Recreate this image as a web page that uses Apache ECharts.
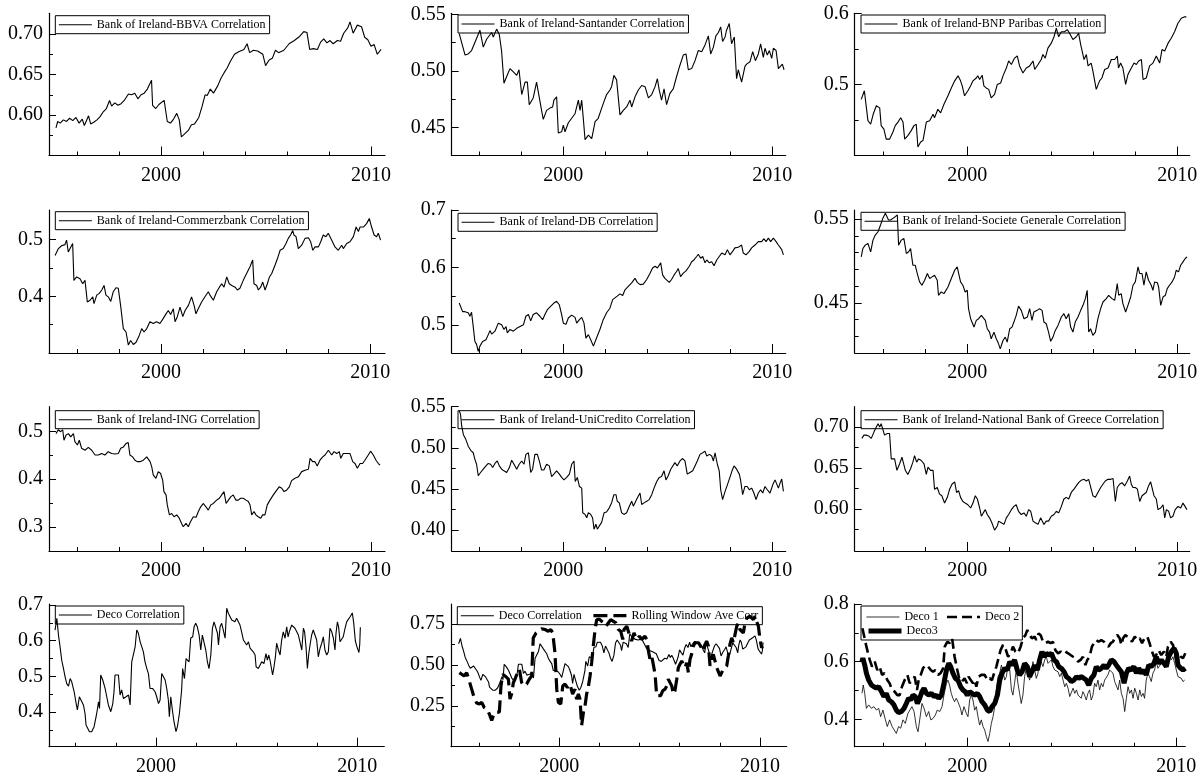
<!DOCTYPE html>
<html><head><meta charset="utf-8">
<script src="https://cdn.jsdelivr.net/npm/echarts@6.0.0/dist/echarts.min.js"></script>
<style>html,body{margin:0;padding:0;background:#fff}#c{width:1198px;height:778px}</style>
</head><body><div id="c"></div>
<script>
// ---------- data: [year, value] ----------
const bbva = [[1995.0,0.584],[1995.08,0.592],[1995.2,0.590],[1995.35,0.594],[1995.5,0.592],[1995.65,0.596],[1995.8,0.593],[1995.95,0.597],[1996.1,0.590],[1996.25,0.595],[1996.35,0.587],[1996.45,0.593],[1996.55,0.599],[1996.65,0.589],[1996.8,0.591],[1996.95,0.594],[1997.1,0.598],[1997.25,0.604],[1997.4,0.608],[1997.55,0.618],[1997.65,0.611],[1997.8,0.615],[1997.95,0.612],[1998.1,0.614],[1998.25,0.618],[1998.45,0.626],[1998.6,0.625],[1998.75,0.627],[1998.9,0.620],[1999.05,0.625],[1999.2,0.627],[1999.35,0.632],[1999.55,0.643],[1999.6,0.612],[1999.75,0.608],[1999.9,0.613],[2000.15,0.618],[2000.3,0.592],[2000.45,0.590],[2000.6,0.595],[2000.75,0.602],[2000.87,0.594],[2000.97,0.573],[2001.1,0.576],[2001.3,0.581],[2001.45,0.588],[2001.6,0.589],[2001.8,0.597],[2001.95,0.610],[2002.1,0.625],[2002.2,0.624],[2002.35,0.632],[2002.5,0.627],[2002.7,0.636],[2002.85,0.645],[2003.0,0.652],[2003.15,0.658],[2003.3,0.666],[2003.5,0.675],[2003.7,0.678],[2003.95,0.681],[2004.1,0.688],[2004.22,0.677],[2004.4,0.680],[2004.6,0.679],[2004.85,0.675],[2004.98,0.661],[2005.15,0.668],[2005.3,0.670],[2005.45,0.680],[2005.6,0.677],[2005.85,0.680],[2006.1,0.688],[2006.35,0.692],[2006.6,0.697],[2006.8,0.703],[2006.95,0.702],[2007.08,0.681],[2007.25,0.682],[2007.45,0.681],[2007.6,0.690],[2007.75,0.694],[2007.9,0.689],[2008.05,0.692],[2008.2,0.688],[2008.4,0.692],[2008.55,0.691],[2008.7,0.701],[2008.9,0.708],[2009.0,0.715],[2009.15,0.701],[2009.35,0.711],[2009.55,0.709],[2009.7,0.696],[2009.85,0.693],[2010.0,0.685],[2010.15,0.687],[2010.3,0.675],[2010.48,0.681]];
const santander = [[1995.02,0.533],[1995.30,0.514],[1995.45,0.515],[1995.61,0.518],[1996.01,0.536],[1996.17,0.521],[1996.33,0.528],[1996.57,0.534],[1996.65,0.530],[1996.81,0.537],[1996.94,0.532],[1997.05,0.517],[1997.16,0.489],[1997.29,0.495],[1997.45,0.502],[1997.61,0.499],[1997.77,0.496],[1997.88,0.501],[1998.01,0.479],[1998.17,0.490],[1998.28,0.490],[1998.37,0.470],[1998.56,0.476],[1998.72,0.490],[1998.80,0.489],[1998.96,0.465],[1999.04,0.457],[1999.20,0.465],[1999.36,0.467],[1999.49,0.468],[1999.55,0.474],[1999.68,0.477],[1999.76,0.445],[1999.92,0.446],[2000.0,0.452],[2000.08,0.446],[2000.24,0.454],[2000.40,0.458],[2000.56,0.462],[2000.72,0.474],[2000.80,0.465],[2000.88,0.474],[2000.96,0.457],[2001.04,0.439],[2001.20,0.443],[2001.36,0.440],[2001.52,0.455],[2001.67,0.458],[2001.75,0.459],[2001.91,0.471],[2002.07,0.479],[2002.23,0.483],[2002.31,0.486],[2002.42,0.496],[2002.55,0.492],[2002.71,0.461],[2002.87,0.465],[2003.03,0.468],[2003.19,0.474],[2003.27,0.468],[2003.43,0.477],[2003.59,0.483],[2003.75,0.487],[2003.91,0.486],[2004.07,0.476],[2004.23,0.479],[2004.39,0.486],[2004.50,0.493],[2004.59,0.483],[2004.70,0.474],[2004.82,0.484],[2004.94,0.470],[2005.10,0.480],[2005.26,0.484],[2005.42,0.495],[2005.58,0.505],[2005.74,0.514],[2005.87,0.515],[2005.98,0.501],[2006.14,0.502],[2006.30,0.509],[2006.46,0.518],[2006.62,0.517],[2006.78,0.523],[2006.94,0.531],[2007.05,0.515],[2007.18,0.521],[2007.30,0.531],[2007.42,0.534],[2007.53,0.539],[2007.62,0.526],[2007.74,0.530],[2007.81,0.536],[2007.94,0.542],[2008.05,0.524],[2008.18,0.530],[2008.29,0.493],[2008.37,0.501],[2008.53,0.490],[2008.69,0.504],[2008.77,0.506],[2008.93,0.508],[2009.06,0.517],[2009.19,0.509],[2009.33,0.515],[2009.44,0.524],[2009.57,0.512],[2009.65,0.520],[2009.76,0.514],[2009.86,0.518],[2009.97,0.511],[2010.05,0.520],[2010.18,0.518],[2010.29,0.502],[2010.37,0.501],[2010.48,0.506],[2010.56,0.501]];
const bnp = [[1994.95,0.479],[1995.1,0.491],[1995.27,0.449],[1995.4,0.444],[1995.52,0.458],[1995.67,0.470],[1995.75,0.472],[1995.83,0.467],[1995.9,0.442],[1996.03,0.437],[1996.14,0.423],[1996.3,0.423],[1996.46,0.433],[1996.57,0.442],[1996.7,0.447],[1996.83,0.453],[1996.94,0.447],[1997.02,0.423],[1997.17,0.428],[1997.33,0.435],[1997.46,0.442],[1997.52,0.440],[1997.57,0.444],[1997.65,0.412],[1997.78,0.419],[1997.89,0.421],[1998.05,0.447],[1998.21,0.449],[1998.37,0.458],[1998.44,0.453],[1998.6,0.465],[1998.73,0.460],[1998.89,0.472],[1999.08,0.484],[1999.24,0.495],[1999.4,0.505],[1999.56,0.512],[1999.68,0.505],[1999.76,0.498],[1999.87,0.484],[2000.03,0.491],[2000.16,0.498],[2000.27,0.505],[2000.43,0.509],[2000.5,0.512],[2000.59,0.507],[2000.71,0.513],[2000.79,0.498],[2000.9,0.495],[2001.02,0.493],[2001.14,0.481],[2001.3,0.486],[2001.43,0.500],[2001.59,0.502],[2001.7,0.512],[2001.86,0.523],[2001.97,0.533],[2002.1,0.528],[2002.25,0.537],[2002.38,0.540],[2002.49,0.526],[2002.65,0.516],[2002.81,0.523],[2002.97,0.526],[2003.13,0.533],[2003.21,0.521],[2003.37,0.528],[2003.52,0.535],[2003.6,0.542],[2003.71,0.537],[2003.84,0.551],[2004.0,0.558],[2004.13,0.567],[2004.24,0.579],[2004.35,0.567],[2004.48,0.574],[2004.63,0.574],[2004.76,0.577],[2004.87,0.572],[2005.03,0.563],[2005.19,0.567],[2005.3,0.572],[2005.4,0.556],[2005.46,0.558],[2005.56,0.535],[2005.67,0.542],[2005.75,0.526],[2005.9,0.530],[2005.98,0.519],[2006.14,0.493],[2006.3,0.505],[2006.41,0.509],[2006.54,0.521],[2006.7,0.523],[2006.86,0.535],[2007.02,0.535],[2007.14,0.540],[2007.2,0.523],[2007.3,0.530],[2007.41,0.523],[2007.54,0.500],[2007.65,0.514],[2007.81,0.523],[2007.94,0.530],[2008.05,0.528],[2008.16,0.533],[2008.29,0.535],[2008.37,0.507],[2008.52,0.509],[2008.68,0.526],[2008.84,0.530],[2009.0,0.540],[2009.16,0.530],[2009.27,0.549],[2009.4,0.547],[2009.56,0.558],[2009.71,0.565],[2009.87,0.574],[2010.03,0.586],[2010.19,0.593],[2010.35,0.595],[2010.43,0.595]];
const commerz = [[1994.94,0.472],[1995.1,0.484],[1995.25,0.489],[1995.41,0.491],[1995.49,0.499],[1995.57,0.478],[1995.65,0.477],[1995.78,0.493],[1995.84,0.428],[1995.97,0.434],[1996.13,0.431],[1996.26,0.422],[1996.37,0.428],[1996.48,0.390],[1996.61,0.393],[1996.74,0.399],[1996.8,0.387],[1996.93,0.402],[1997.05,0.405],[1997.17,0.411],[1997.28,0.419],[1997.37,0.402],[1997.48,0.399],[1997.6,0.391],[1997.72,0.408],[1997.85,0.415],[1997.96,0.414],[1998.07,0.384],[1998.2,0.343],[1998.33,0.337],[1998.44,0.314],[1998.55,0.322],[1998.68,0.315],[1998.81,0.319],[1998.96,0.331],[1999.08,0.343],[1999.19,0.337],[1999.32,0.343],[1999.47,0.355],[1999.63,0.352],[1999.79,0.355],[1999.95,0.352],[2000.11,0.361],[2000.24,0.369],[2000.35,0.375],[2000.46,0.368],[2000.59,0.378],[2000.67,0.355],[2000.78,0.364],[2000.91,0.381],[2001.04,0.364],[2001.15,0.375],[2001.31,0.384],[2001.46,0.399],[2001.58,0.384],[2001.67,0.369],[2001.78,0.378],[2001.94,0.390],[2002.1,0.399],[2002.26,0.408],[2002.34,0.402],[2002.5,0.393],[2002.66,0.408],[2002.79,0.416],[2002.9,0.422],[2003.01,0.416],[2003.14,0.434],[2003.26,0.422],[2003.38,0.419],[2003.54,0.416],[2003.65,0.411],[2003.77,0.414],[2003.93,0.428],[2004.09,0.440],[2004.25,0.452],[2004.38,0.464],[2004.44,0.422],[2004.57,0.419],[2004.65,0.411],[2004.76,0.416],[2004.86,0.425],[2004.97,0.411],[2005.08,0.422],[2005.18,0.434],[2005.29,0.440],[2005.45,0.455],[2005.56,0.466],[2005.69,0.481],[2005.84,0.484],[2005.97,0.493],[2006.08,0.502],[2006.19,0.508],[2006.29,0.516],[2006.35,0.508],[2006.45,0.505],[2006.56,0.484],[2006.72,0.490],[2006.88,0.502],[2007.04,0.503],[2007.15,0.496],[2007.25,0.481],[2007.36,0.487],[2007.52,0.487],[2007.63,0.496],[2007.75,0.508],[2007.88,0.505],[2007.99,0.511],[2008.15,0.499],[2008.31,0.487],[2008.47,0.481],[2008.63,0.490],[2008.71,0.484],[2008.87,0.493],[2009.03,0.496],[2009.19,0.505],[2009.32,0.522],[2009.43,0.514],[2009.51,0.522],[2009.67,0.522],[2009.82,0.528],[2009.95,0.537],[2010.06,0.522],[2010.18,0.508],[2010.3,0.505],[2010.38,0.511],[2010.49,0.499]];
const db = [[1995.02,0.538],[1995.08,0.541],[1995.18,0.523],[1995.29,0.523],[1995.45,0.521],[1995.53,0.515],[1995.61,0.522],[1995.69,0.497],[1995.77,0.471],[1995.85,0.466],[1995.93,0.454],[1996.01,0.463],[1996.14,0.471],[1996.3,0.474],[1996.41,0.483],[1996.49,0.490],[1996.57,0.484],[1996.73,0.489],[1996.89,0.503],[1997.05,0.500],[1997.16,0.492],[1997.26,0.497],[1997.32,0.486],[1997.45,0.492],[1997.61,0.489],[1997.77,0.494],[1997.93,0.497],[1998.09,0.500],[1998.21,0.515],[1998.33,0.518],[1998.44,0.507],[1998.56,0.518],[1998.72,0.521],[1998.88,0.515],[1999.01,0.509],[1999.12,0.518],[1999.23,0.526],[1999.39,0.532],[1999.55,0.538],[1999.68,0.541],[1999.81,0.535],[1999.92,0.518],[2000.0,0.503],[2000.13,0.501],[2000.24,0.512],[2000.4,0.517],[2000.56,0.513],[2000.64,0.503],[2000.77,0.509],[2000.88,0.513],[2000.99,0.503],[2001.08,0.477],[2001.2,0.483],[2001.31,0.474],[2001.44,0.463],[2001.59,0.477],[2001.75,0.492],[2001.91,0.509],[2002.07,0.521],[2002.23,0.529],[2002.36,0.544],[2002.47,0.547],[2002.58,0.550],[2002.71,0.554],[2002.84,0.551],[2002.95,0.561],[2003.11,0.567],[2003.27,0.573],[2003.43,0.581],[2003.54,0.574],[2003.67,0.570],[2003.83,0.571],[2003.99,0.579],[2004.15,0.590],[2004.27,0.599],[2004.39,0.602],[2004.5,0.599],[2004.59,0.602],[2004.66,0.608],[2004.75,0.587],[2004.86,0.581],[2004.94,0.584],[2005.07,0.574],[2005.18,0.579],[2005.3,0.587],[2005.42,0.593],[2005.5,0.598],[2005.61,0.584],[2005.74,0.590],[2005.87,0.594],[2006.03,0.602],[2006.14,0.610],[2006.25,0.613],[2006.38,0.619],[2006.46,0.623],[2006.57,0.616],[2006.67,0.619],[2006.78,0.608],[2006.86,0.613],[2006.99,0.608],[2007.1,0.610],[2007.21,0.603],[2007.34,0.613],[2007.46,0.619],[2007.58,0.625],[2007.74,0.622],[2007.85,0.631],[2007.97,0.622],[2008.1,0.628],[2008.21,0.634],[2008.37,0.635],[2008.53,0.639],[2008.61,0.625],[2008.74,0.622],[2008.9,0.628],[2009.01,0.634],[2009.17,0.639],[2009.33,0.645],[2009.49,0.645],[2009.6,0.650],[2009.7,0.645],[2009.81,0.651],[2009.92,0.645],[2010.05,0.651],[2010.18,0.645],[2010.29,0.639],[2010.37,0.642],[2010.45,0.631],[2010.53,0.622]];
const socgen = [[1994.95,0.505],[1995.03,0.515],[1995.14,0.519],[1995.27,0.521],[1995.4,0.511],[1995.51,0.525],[1995.62,0.531],[1995.75,0.535],[1995.87,0.543],[1995.98,0.551],[1996.1,0.557],[1996.19,0.556],[1996.25,0.549],[1996.35,0.549],[1996.46,0.551],[1996.57,0.553],[1996.67,0.555],[1996.73,0.519],[1996.86,0.525],[1996.98,0.527],[1997.1,0.509],[1997.21,0.511],[1997.3,0.515],[1997.41,0.495],[1997.52,0.495],[1997.62,0.485],[1997.73,0.475],[1997.84,0.471],[1997.97,0.477],[1998.1,0.485],[1998.21,0.479],[1998.32,0.481],[1998.44,0.483],[1998.57,0.477],[1998.63,0.459],[1998.76,0.463],[1998.89,0.461],[1998.95,0.459],[1999.08,0.469],[1999.24,0.479],[1999.4,0.489],[1999.52,0.493],[1999.59,0.491],[1999.68,0.475],[1999.79,0.471],[1999.9,0.463],[2000.0,0.465],[2000.06,0.443],[2000.16,0.431],[2000.22,0.433],[2000.32,0.421],[2000.43,0.429],[2000.54,0.431],[2000.67,0.435],[2000.76,0.437],[2000.86,0.429],[2000.95,0.419],[2001.06,0.415],[2001.14,0.407],[2001.27,0.415],[2001.38,0.407],[2001.46,0.403],[2001.57,0.395],[2001.7,0.405],[2001.81,0.409],[2001.9,0.403],[2002.02,0.419],[2002.13,0.421],[2002.22,0.427],[2002.33,0.435],[2002.44,0.446],[2002.57,0.441],[2002.7,0.431],[2002.86,0.433],[2002.97,0.443],[2003.08,0.429],[2003.17,0.439],[2003.33,0.441],[2003.44,0.443],[2003.56,0.441],[2003.65,0.427],[2003.76,0.425],[2003.87,0.415],[2003.97,0.404],[2004.08,0.409],[2004.19,0.417],[2004.32,0.423],[2004.48,0.433],[2004.6,0.437],[2004.71,0.431],[2004.83,0.437],[2004.92,0.421],[2005.03,0.415],[2005.14,0.427],[2005.27,0.433],[2005.4,0.441],[2005.51,0.447],[2005.62,0.455],[2005.71,0.465],[2005.78,0.415],[2005.87,0.419],[2005.98,0.411],[2006.1,0.415],[2006.22,0.431],[2006.35,0.443],[2006.46,0.451],[2006.62,0.455],[2006.73,0.459],[2006.89,0.455],[2007.02,0.453],[2007.14,0.473],[2007.21,0.459],[2007.33,0.461],[2007.41,0.449],[2007.54,0.439],[2007.65,0.447],[2007.78,0.457],[2007.89,0.471],[2008.0,0.475],[2008.13,0.493],[2008.21,0.485],[2008.32,0.485],[2008.41,0.471],[2008.52,0.487],[2008.63,0.477],[2008.76,0.471],[2008.84,0.465],[2008.92,0.475],[2009.05,0.474],[2009.11,0.469],[2009.21,0.447],[2009.32,0.457],[2009.43,0.459],[2009.52,0.467],[2009.63,0.471],[2009.75,0.475],[2009.87,0.481],[2009.95,0.489],[2010.06,0.487],[2010.16,0.495],[2010.27,0.499],[2010.38,0.503],[2010.46,0.505]];
const ing = [[1995.0,0.496],[1995.11,0.504],[1995.22,0.500],[1995.32,0.504],[1995.38,0.482],[1995.48,0.493],[1995.59,0.496],[1995.7,0.489],[1995.83,0.496],[1995.9,0.479],[1996.02,0.472],[1996.11,0.482],[1996.22,0.465],[1996.38,0.461],[1996.54,0.467],[1996.7,0.461],[1996.86,0.451],[1997.02,0.451],[1997.17,0.454],[1997.33,0.451],[1997.49,0.458],[1997.65,0.454],[1997.81,0.453],[1997.97,0.454],[1998.08,0.465],[1998.21,0.468],[1998.33,0.475],[1998.44,0.477],[1998.52,0.451],[1998.65,0.447],[1998.76,0.440],[1998.87,0.437],[1999.0,0.437],[1999.16,0.440],[1999.32,0.447],[1999.4,0.451],[1999.48,0.437],[1999.56,0.426],[1999.63,0.409],[1999.76,0.402],[1999.87,0.416],[1999.98,0.412],[2000.08,0.398],[2000.14,0.374],[2000.24,0.367],[2000.3,0.346],[2000.4,0.325],[2000.51,0.328],[2000.62,0.321],[2000.75,0.325],[2000.87,0.318],[2000.98,0.307],[2001.06,0.300],[2001.19,0.307],[2001.3,0.300],[2001.41,0.311],[2001.54,0.321],[2001.67,0.320],[2001.78,0.332],[2001.89,0.342],[2002.02,0.349],[2002.14,0.342],[2002.25,0.335],[2002.37,0.346],[2002.49,0.349],[2002.65,0.356],[2002.78,0.360],[2002.89,0.367],[2003.0,0.374],[2003.1,0.349],[2003.21,0.356],[2003.32,0.363],[2003.44,0.367],[2003.57,0.356],[2003.68,0.356],[2003.79,0.360],[2003.92,0.360],[2004.05,0.356],[2004.16,0.353],[2004.24,0.346],[2004.32,0.325],[2004.43,0.332],[2004.52,0.325],[2004.63,0.321],[2004.75,0.318],[2004.84,0.325],[2004.95,0.325],[2005.06,0.346],[2005.19,0.356],[2005.35,0.367],[2005.51,0.377],[2005.63,0.384],[2005.75,0.381],[2005.86,0.374],[2005.98,0.377],[2006.11,0.384],[2006.22,0.397],[2006.38,0.402],[2006.54,0.405],[2006.7,0.416],[2006.86,0.419],[2007.02,0.421],[2007.1,0.444],[2007.22,0.437],[2007.33,0.437],[2007.44,0.428],[2007.57,0.440],[2007.7,0.447],[2007.81,0.451],[2007.97,0.461],[2008.05,0.465],[2008.13,0.451],[2008.24,0.458],[2008.37,0.454],[2008.49,0.458],[2008.56,0.444],[2008.68,0.454],[2008.84,0.454],[2009.0,0.454],[2009.13,0.437],[2009.24,0.433],[2009.35,0.423],[2009.48,0.433],[2009.6,0.433],[2009.71,0.440],[2009.87,0.451],[2009.98,0.459],[2010.11,0.451],[2010.24,0.440],[2010.35,0.433],[2010.43,0.430]];
const unicredito = [[1995.02,0.545],[1995.08,0.541],[1995.14,0.526],[1995.22,0.516],[1995.34,0.510],[1995.45,0.502],[1995.57,0.497],[1995.69,0.494],[1995.77,0.486],[1995.85,0.480],[1995.93,0.466],[1996.04,0.470],[1996.17,0.474],[1996.3,0.478],[1996.41,0.481],[1996.52,0.480],[1996.62,0.476],[1996.73,0.481],[1996.84,0.484],[1996.94,0.478],[1997.05,0.474],[1997.16,0.472],[1997.29,0.470],[1997.42,0.476],[1997.53,0.485],[1997.64,0.480],[1997.77,0.474],[1997.89,0.480],[1998.01,0.484],[1998.12,0.480],[1998.21,0.492],[1998.33,0.494],[1998.44,0.470],[1998.53,0.474],[1998.64,0.492],[1998.76,0.492],[1998.85,0.484],[1998.96,0.473],[1999.07,0.473],[1999.2,0.480],[1999.33,0.478],[1999.44,0.465],[1999.55,0.468],[1999.68,0.472],[1999.81,0.468],[1999.92,0.464],[2000.03,0.461],[2000.16,0.464],[2000.29,0.468],[2000.4,0.480],[2000.51,0.484],[2000.57,0.459],[2000.67,0.464],[2000.77,0.453],[2000.88,0.451],[2000.93,0.421],[2001.04,0.419],[2001.12,0.415],[2001.2,0.421],[2001.31,0.419],[2001.4,0.415],[2001.47,0.401],[2001.56,0.407],[2001.63,0.401],[2001.72,0.405],[2001.83,0.409],[2001.95,0.421],[2002.07,0.422],[2002.2,0.427],[2002.31,0.433],[2002.42,0.443],[2002.52,0.443],[2002.58,0.435],[2002.68,0.433],[2002.79,0.421],[2002.9,0.419],[2003.03,0.421],[2003.16,0.429],[2003.27,0.435],[2003.35,0.429],[2003.43,0.431],[2003.54,0.439],[2003.67,0.445],[2003.75,0.431],[2003.86,0.433],[2003.99,0.435],[2004.11,0.437],[2004.23,0.443],[2004.34,0.451],[2004.47,0.459],[2004.59,0.464],[2004.7,0.465],[2004.82,0.472],[2004.91,0.461],[2005.02,0.466],[2005.14,0.474],[2005.23,0.476],[2005.34,0.482],[2005.45,0.478],[2005.58,0.484],[2005.71,0.487],[2005.82,0.484],[2005.93,0.468],[2006.06,0.470],[2006.19,0.472],[2006.3,0.478],[2006.41,0.484],[2006.54,0.492],[2006.67,0.494],[2006.78,0.496],[2006.86,0.490],[2006.99,0.492],[2007.1,0.490],[2007.18,0.484],[2007.26,0.494],[2007.37,0.480],[2007.46,0.472],[2007.53,0.449],[2007.62,0.437],[2007.74,0.447],[2007.85,0.455],[2007.97,0.464],[2008.1,0.474],[2008.17,0.478],[2008.29,0.474],[2008.42,0.468],[2008.48,0.461],[2008.58,0.443],[2008.69,0.453],[2008.8,0.453],[2008.9,0.449],[2009.01,0.451],[2009.12,0.445],[2009.22,0.437],[2009.33,0.445],[2009.44,0.449],[2009.54,0.445],[2009.65,0.453],[2009.76,0.449],[2009.89,0.445],[2010.02,0.455],[2010.13,0.461],[2010.21,0.462],[2010.29,0.451],[2010.37,0.457],[2010.45,0.462],[2010.53,0.447]];
const nbg = [[1994.98,0.686],[1995.08,0.690],[1995.19,0.690],[1995.3,0.689],[1995.43,0.686],[1995.56,0.694],[1995.67,0.700],[1995.75,0.704],[1995.83,0.700],[1995.9,0.704],[1995.98,0.702],[1996.06,0.690],[1996.19,0.692],[1996.3,0.692],[1996.38,0.661],[1996.46,0.659],[1996.54,0.661],[1996.65,0.647],[1996.78,0.655],[1996.89,0.663],[1996.98,0.665],[1997.05,0.647],[1997.17,0.642],[1997.3,0.649],[1997.41,0.657],[1997.49,0.665],[1997.59,0.657],[1997.68,0.661],[1997.81,0.659],[1997.94,0.655],[1998.05,0.642],[1998.13,0.651],[1998.25,0.647],[1998.37,0.647],[1998.44,0.624],[1998.57,0.626],[1998.68,0.618],[1998.79,0.616],[1998.92,0.607],[1999.05,0.614],[1999.16,0.624],[1999.27,0.630],[1999.4,0.633],[1999.49,0.620],[1999.59,0.622],[1999.68,0.614],[1999.79,0.609],[1999.9,0.607],[2000.03,0.605],[2000.16,0.601],[2000.27,0.607],[2000.38,0.616],[2000.48,0.612],[2000.59,0.601],[2000.67,0.591],[2000.76,0.595],[2000.86,0.599],[2000.95,0.593],[2001.06,0.589],[2001.17,0.583],[2001.3,0.574],[2001.43,0.579],[2001.49,0.585],[2001.62,0.583],[2001.75,0.581],[2001.86,0.589],[2001.97,0.593],[2002.1,0.599],[2002.22,0.603],[2002.33,0.605],[2002.44,0.597],[2002.57,0.593],[2002.7,0.595],[2002.81,0.591],[2002.92,0.599],[2003.02,0.597],[2003.13,0.585],[2003.24,0.583],[2003.37,0.581],[2003.49,0.589],[2003.56,0.589],[2003.65,0.581],[2003.76,0.585],[2003.87,0.585],[2004.0,0.591],[2004.13,0.593],[2004.24,0.597],[2004.35,0.595],[2004.48,0.603],[2004.6,0.612],[2004.71,0.614],[2004.83,0.612],[2004.95,0.620],[2005.08,0.624],[2005.19,0.628],[2005.3,0.632],[2005.43,0.635],[2005.56,0.636],[2005.67,0.634],[2005.78,0.636],[2005.87,0.634],[2005.98,0.616],[2006.1,0.614],[2006.22,0.620],[2006.35,0.626],[2006.46,0.630],[2006.57,0.634],[2006.7,0.636],[2006.83,0.636],[2006.94,0.637],[2007.05,0.609],[2007.14,0.626],[2007.25,0.630],[2007.37,0.632],[2007.49,0.628],[2007.62,0.634],[2007.73,0.640],[2007.81,0.630],[2007.89,0.626],[2008.0,0.626],[2008.1,0.624],[2008.16,0.622],[2008.21,0.609],[2008.32,0.616],[2008.41,0.616],[2008.52,0.620],[2008.63,0.628],[2008.73,0.633],[2008.79,0.634],[2008.89,0.616],[2009.0,0.612],[2009.08,0.599],[2009.21,0.601],[2009.32,0.605],[2009.4,0.589],[2009.48,0.599],[2009.59,0.597],[2009.68,0.589],[2009.79,0.591],[2009.9,0.599],[2010.03,0.603],[2010.16,0.601],[2010.27,0.607],[2010.35,0.609],[2010.46,0.599]];
const deco = [[1994.98,0.630],[1995.07,0.663],[1995.15,0.616],[1995.23,0.583],[1995.31,0.546],[1995.4,0.522],[1995.48,0.499],[1995.56,0.480],[1995.65,0.473],[1995.73,0.494],[1995.81,0.485],[1995.93,0.457],[1996.03,0.424],[1996.09,0.406],[1996.19,0.443],[1996.31,0.429],[1996.39,0.420],[1996.47,0.396],[1996.52,0.364],[1996.59,0.368],[1996.69,0.345],[1996.8,0.345],[1996.92,0.359],[1997.02,0.387],[1997.09,0.410],[1997.14,0.429],[1997.19,0.410],[1997.25,0.504],[1997.35,0.490],[1997.47,0.466],[1997.55,0.443],[1997.63,0.420],[1997.75,0.401],[1997.85,0.424],[1997.91,0.457],[1997.96,0.504],[1998.05,0.499],[1998.13,0.504],[1998.21,0.448],[1998.29,0.462],[1998.38,0.438],[1998.51,0.443],[1998.63,0.448],[1998.71,0.420],[1998.79,0.541],[1998.87,0.541],[1998.96,0.583],[1999.04,0.630],[1999.12,0.621],[1999.21,0.597],[1999.29,0.593],[1999.37,0.569],[1999.45,0.541],[1999.54,0.522],[1999.62,0.508],[1999.7,0.466],[1999.83,0.466],[1999.95,0.457],[2000.03,0.443],[2000.12,0.424],[2000.2,0.434],[2000.28,0.508],[2000.36,0.513],[2000.45,0.490],[2000.53,0.466],[2000.61,0.434],[2000.66,0.387],[2000.73,0.443],[2000.81,0.406],[2000.89,0.373],[2000.99,0.345],[2001.06,0.359],[2001.16,0.396],[2001.23,0.396],[2001.27,0.462],[2001.32,0.522],[2001.41,0.494],[2001.49,0.550],[2001.56,0.555],[2001.64,0.541],[2001.72,0.607],[2001.82,0.611],[2001.89,0.639],[2001.97,0.649],[2002.05,0.639],[2002.14,0.616],[2002.22,0.574],[2002.3,0.616],[2002.38,0.621],[2002.47,0.574],[2002.55,0.541],[2002.63,0.522],[2002.72,0.560],[2002.8,0.635],[2002.88,0.653],[2002.96,0.649],[2003.05,0.621],[2003.1,0.588],[2003.18,0.639],[2003.26,0.649],[2003.34,0.630],[2003.43,0.607],[2003.51,0.691],[2003.59,0.677],[2003.68,0.672],[2003.76,0.658],[2003.84,0.653],[2003.92,0.653],[2004.0,0.663],[2004.09,0.658],[2004.17,0.644],[2004.25,0.625],[2004.34,0.602],[2004.42,0.607],[2004.5,0.588],[2004.59,0.597],[2004.67,0.579],[2004.75,0.583],[2004.83,0.569],[2004.92,0.560],[2004.97,0.527],[2005.08,0.522],[2005.17,0.532],[2005.25,0.541],[2005.36,0.536],[2005.46,0.564],[2005.53,0.546],[2005.6,0.560],[2005.66,0.546],[2005.75,0.541],[2005.79,0.504],[2005.86,0.527],[2005.93,0.555],[2005.99,0.593],[2006.08,0.574],[2006.16,0.560],[2006.24,0.602],[2006.32,0.625],[2006.41,0.607],[2006.49,0.639],[2006.56,0.611],[2006.62,0.625],[2006.74,0.644],[2006.82,0.639],[2006.9,0.635],[2006.99,0.625],[2007.07,0.616],[2007.15,0.597],[2007.24,0.574],[2007.32,0.635],[2007.38,0.625],[2007.45,0.583],[2007.52,0.522],[2007.58,0.560],[2007.65,0.588],[2007.73,0.616],[2007.81,0.630],[2007.9,0.630],[2007.98,0.602],[2008.06,0.555],[2008.15,0.579],[2008.23,0.593],[2008.31,0.611],[2008.39,0.574],[2008.48,0.560],[2008.56,0.569],[2008.64,0.635],[2008.73,0.625],[2008.81,0.607],[2008.89,0.574],[2008.94,0.621],[2009.01,0.653],[2009.07,0.639],[2009.14,0.597],[2009.22,0.593],[2009.3,0.611],[2009.39,0.635],[2009.47,0.653],[2009.55,0.658],[2009.65,0.668],[2009.75,0.678],[2009.82,0.650],[2009.9,0.600],[2009.97,0.585],[2010.03,0.575],[2010.08,0.567],[2010.12,0.590],[2010.15,0.638]];
const rolling = [[1995.02,0.453],[1995.13,0.443],[1995.25,0.433],[1995.38,0.453],[1995.46,0.423],[1995.55,0.433],[1995.63,0.352],[1995.75,0.302],[1995.88,0.267],[1996.01,0.261],[1996.13,0.271],[1996.25,0.241],[1996.38,0.231],[1996.51,0.200],[1996.63,0.160],[1996.71,0.190],[1996.79,0.211],[1996.88,0.200],[1997.01,0.211],[1997.09,0.372],[1997.18,0.443],[1997.29,0.433],[1997.38,0.443],[1997.46,0.413],[1997.54,0.291],[1997.62,0.322],[1997.71,0.393],[1997.79,0.413],[1997.91,0.453],[1998.01,0.474],[1998.12,0.393],[1998.24,0.372],[1998.37,0.383],[1998.5,0.413],[1998.62,0.433],[1998.7,0.666],[1998.84,0.696],[1998.95,0.706],[1999.12,0.721],[1999.29,0.717],[1999.45,0.706],[1999.57,0.717],[1999.67,0.696],[1999.78,0.575],[1999.87,0.352],[1999.95,0.271],[2000.07,0.261],[2000.17,0.372],[2000.28,0.383],[2000.4,0.362],[2000.53,0.383],[2000.66,0.322],[2000.78,0.352],[2000.86,0.291],[2000.95,0.322],[2001.03,0.291],[2001.11,0.130],[2001.2,0.211],[2001.28,0.251],[2001.36,0.322],[2001.45,0.372],[2001.53,0.433],[2001.61,0.514],[2001.69,0.615],[2001.78,0.717],[2001.86,0.777],[2001.99,0.781],[2002.11,0.767],[2002.23,0.757],[2002.33,0.737],[2002.44,0.757],[2002.56,0.777],[2002.69,0.767],[2002.82,0.757],[2002.94,0.717],[2003.06,0.706],[2003.16,0.656],[2003.22,0.717],[2003.36,0.737],[2003.49,0.686],[2003.6,0.646],[2003.72,0.696],[2003.85,0.656],[2003.99,0.676],[2004.1,0.656],[2004.19,0.666],[2004.27,0.676],[2004.35,0.656],[2004.44,0.585],[2004.52,0.534],[2004.6,0.555],[2004.68,0.504],[2004.77,0.443],[2004.85,0.312],[2004.93,0.302],[2005.05,0.312],[2005.15,0.342],[2005.27,0.352],[2005.35,0.372],[2005.43,0.413],[2005.51,0.423],[2005.6,0.372],[2005.68,0.322],[2005.76,0.342],[2005.85,0.413],[2005.93,0.484],[2006.01,0.504],[2006.1,0.524],[2006.18,0.524],[2006.26,0.484],[2006.35,0.514],[2006.43,0.453],[2006.51,0.534],[2006.59,0.565],[2006.68,0.615],[2006.76,0.636],[2006.84,0.626],[2006.93,0.636],[2007.04,0.615],[2007.14,0.585],[2007.26,0.626],[2007.34,0.646],[2007.43,0.615],[2007.51,0.494],[2007.59,0.534],[2007.67,0.565],[2007.76,0.524],[2007.84,0.484],[2007.92,0.474],[2008.01,0.433],[2008.09,0.453],[2008.17,0.474],[2008.26,0.484],[2008.34,0.494],[2008.42,0.555],[2008.5,0.626],[2008.59,0.666],[2008.67,0.636],[2008.75,0.626],[2008.84,0.737],[2008.92,0.757],[2009.0,0.717],[2009.09,0.727],[2009.17,0.696],[2009.25,0.757],[2009.34,0.787],[2009.42,0.787],[2009.5,0.798],[2009.58,0.802],[2009.67,0.777],[2009.75,0.798],[2009.83,0.767],[2009.92,0.737],[2010.0,0.656],[2010.08,0.605],[2010.13,0.615]];
const deco1 = [[1994.96,0.490],[1995.02,0.519],[1995.09,0.490],[1995.17,0.438],[1995.28,0.450],[1995.41,0.438],[1995.53,0.444],[1995.65,0.432],[1995.76,0.438],[1995.85,0.409],[1995.96,0.432],[1996.08,0.398],[1996.17,0.375],[1996.28,0.398],[1996.4,0.375],[1996.49,0.369],[1996.6,0.351],[1996.71,0.375],[1996.81,0.369],[1996.92,0.398],[1997.03,0.386],[1997.16,0.421],[1997.24,0.415],[1997.35,0.444],[1997.45,0.427],[1997.56,0.375],[1997.64,0.357],[1997.72,0.398],[1997.83,0.455],[1997.93,0.438],[1998.04,0.409],[1998.15,0.427],[1998.25,0.398],[1998.36,0.403],[1998.47,0.415],[1998.56,0.432],[1998.68,0.427],[1998.79,0.444],[1998.88,0.484],[1999.0,0.525],[1999.07,0.536],[1999.15,0.519],[1999.23,0.490],[1999.31,0.473],[1999.39,0.461],[1999.47,0.473],[1999.55,0.461],[1999.67,0.438],[1999.74,0.415],[1999.84,0.444],[1999.95,0.421],[2000.03,0.409],[2000.11,0.467],[2000.19,0.484],[2000.27,0.467],[2000.35,0.432],[2000.43,0.444],[2000.51,0.409],[2000.59,0.380],[2000.67,0.398],[2000.75,0.375],[2000.83,0.363],[2000.91,0.340],[2000.99,0.323],[2001.07,0.351],[2001.15,0.386],[2001.23,0.409],[2001.31,0.444],[2001.39,0.502],[2001.47,0.548],[2001.55,0.560],[2001.63,0.588],[2001.71,0.565],[2001.79,0.536],[2001.87,0.548],[2001.95,0.594],[2002.03,0.571],[2002.11,0.502],[2002.18,0.484],[2002.26,0.525],[2002.34,0.571],[2002.42,0.525],[2002.5,0.490],[2002.58,0.455],[2002.66,0.484],[2002.74,0.548],[2002.82,0.577],[2002.9,0.571],[2002.98,0.536],[2003.06,0.560],[2003.14,0.600],[2003.22,0.594],[2003.3,0.542],[2003.38,0.560],[2003.46,0.612],[2003.54,0.606],[2003.62,0.583],[2003.7,0.606],[2003.78,0.617],[2003.86,0.594],[2003.94,0.600],[2004.02,0.606],[2004.1,0.583],[2004.18,0.571],[2004.26,0.577],[2004.34,0.565],[2004.42,0.548],[2004.5,0.560],[2004.58,0.536],[2004.66,0.513],[2004.74,0.525],[2004.82,0.508],[2004.9,0.479],[2004.98,0.484],[2005.06,0.508],[2005.14,0.490],[2005.22,0.502],[2005.3,0.484],[2005.37,0.490],[2005.45,0.473],[2005.53,0.496],[2005.61,0.484],[2005.69,0.467],[2005.77,0.490],[2005.85,0.502],[2005.93,0.467],[2006.01,0.484],[2006.09,0.525],[2006.17,0.513],[2006.25,0.536],[2006.33,0.502],[2006.41,0.525],[2006.49,0.513],[2006.57,0.536],[2006.65,0.542],[2006.73,0.554],[2006.81,0.571],[2006.89,0.577],[2006.97,0.560],[2007.05,0.531],[2007.13,0.536],[2007.21,0.502],[2007.29,0.536],[2007.37,0.490],[2007.45,0.473],[2007.53,0.427],[2007.61,0.473],[2007.69,0.513],[2007.77,0.490],[2007.85,0.502],[2007.93,0.473],[2008.01,0.508],[2008.09,0.490],[2008.17,0.467],[2008.25,0.502],[2008.33,0.479],[2008.41,0.490],[2008.48,0.473],[2008.56,0.536],[2008.64,0.560],[2008.72,0.548],[2008.8,0.531],[2008.88,0.560],[2008.96,0.571],[2009.04,0.600],[2009.12,0.577],[2009.2,0.571],[2009.28,0.594],[2009.36,0.588],[2009.44,0.600],[2009.52,0.583],[2009.6,0.606],[2009.68,0.623],[2009.76,0.606],[2009.84,0.617],[2009.92,0.594],[2010.0,0.571],[2010.08,0.548],[2010.16,0.542],[2010.24,0.542],[2010.32,0.531],[2010.4,0.536]];
const deco2 = [[1994.98,0.716],[1995.17,0.652],[1995.33,0.606],[1995.44,0.583],[1995.57,0.600],[1995.69,0.571],[1995.8,0.583],[1995.92,0.554],[1996.04,0.560],[1996.17,0.536],[1996.28,0.525],[1996.4,0.502],[1996.52,0.496],[1996.65,0.484],[1996.76,0.484],[1996.87,0.513],[1997.0,0.536],[1997.13,0.554],[1997.24,0.525],[1997.35,0.536],[1997.48,0.548],[1997.59,0.502],[1997.67,0.536],[1997.77,0.554],[1997.88,0.577],[1997.99,0.588],[1998.12,0.583],[1998.25,0.571],[1998.36,0.565],[1998.47,0.571],[1998.6,0.554],[1998.72,0.560],[1998.84,0.577],[1998.92,0.652],[1999.04,0.669],[1999.15,0.664],[1999.27,0.681],[1999.39,0.617],[1999.52,0.571],[1999.63,0.536],[1999.74,0.531],[1999.87,0.542],[1999.98,0.525],[2000.06,0.548],[2000.16,0.536],[2000.27,0.525],[2000.35,0.536],[2000.43,0.513],[2000.54,0.548],[2000.67,0.554],[2000.75,0.548],[2000.83,0.554],[2000.96,0.536],[2001.07,0.542],[2001.18,0.536],[2001.28,0.560],[2001.39,0.583],[2001.47,0.606],[2001.59,0.640],[2001.71,0.658],[2001.82,0.646],[2001.95,0.617],[2002.07,0.629],[2002.18,0.652],[2002.3,0.635],[2002.42,0.629],[2002.55,0.652],[2002.66,0.681],[2002.78,0.692],[2002.87,0.710],[2002.98,0.692],[2003.09,0.681],[2003.22,0.687],[2003.3,0.675],[2003.41,0.698],[2003.51,0.692],[2003.62,0.669],[2003.73,0.664],[2003.86,0.669],[2003.99,0.664],[2004.1,0.669],[2004.21,0.640],[2004.34,0.629],[2004.47,0.635],[2004.58,0.629],[2004.69,0.635],[2004.82,0.629],[2004.94,0.623],[2005.06,0.617],[2005.17,0.612],[2005.3,0.600],[2005.42,0.606],[2005.53,0.617],[2005.65,0.588],[2005.74,0.606],[2005.85,0.617],[2005.96,0.652],[2006.06,0.664],[2006.17,0.675],[2006.28,0.669],[2006.41,0.675],[2006.54,0.669],[2006.65,0.658],[2006.76,0.652],[2006.86,0.664],[2006.97,0.669],[2007.08,0.687],[2007.18,0.692],[2007.29,0.681],[2007.37,0.658],[2007.45,0.681],[2007.56,0.692],[2007.66,0.687],[2007.77,0.681],[2007.88,0.669],[2008.01,0.687],[2008.13,0.675],[2008.25,0.681],[2008.36,0.664],[2008.48,0.681],[2008.61,0.687],[2008.72,0.664],[2008.84,0.635],[2008.93,0.617],[2009.04,0.623],[2009.15,0.640],[2009.28,0.623],[2009.41,0.635],[2009.52,0.617],[2009.6,0.652],[2009.73,0.669],[2009.84,0.658],[2009.92,0.635],[2010.0,0.606],[2010.08,0.629],[2010.21,0.617],[2010.32,0.612],[2010.43,0.629]];
const deco3 = [[1994.96,0.600],[1995.0,0.612],[1995.09,0.588],[1995.17,0.560],[1995.28,0.536],[1995.41,0.519],[1995.53,0.513],[1995.65,0.508],[1995.76,0.513],[1995.89,0.496],[1996.01,0.479],[1996.12,0.490],[1996.24,0.467],[1996.36,0.461],[1996.49,0.450],[1996.6,0.432],[1996.71,0.423],[1996.84,0.427],[1996.97,0.438],[1997.08,0.455],[1997.19,0.473],[1997.29,0.467],[1997.4,0.484],[1997.51,0.479],[1997.61,0.455],[1997.72,0.473],[1997.83,0.496],[1997.93,0.508],[1998.04,0.490],[1998.15,0.484],[1998.28,0.490],[1998.41,0.479],[1998.52,0.484],[1998.63,0.473],[1998.76,0.484],[1998.88,0.525],[1999.0,0.571],[1999.11,0.594],[1999.2,0.583],[1999.31,0.560],[1999.43,0.542],[1999.55,0.536],[1999.68,0.513],[1999.79,0.502],[1999.9,0.496],[2000.0,0.484],[2000.11,0.496],[2000.22,0.490],[2000.35,0.484],[2000.48,0.490],[2000.59,0.479],[2000.7,0.461],[2000.83,0.450],[2000.96,0.432],[2001.07,0.427],[2001.18,0.444],[2001.31,0.455],[2001.44,0.484],[2001.55,0.536],[2001.66,0.560],[2001.79,0.577],[2001.91,0.571],[2002.03,0.600],[2002.14,0.588],[2002.26,0.606],[2002.39,0.571],[2002.5,0.554],[2002.62,0.565],[2002.74,0.594],[2002.87,0.583],[2002.98,0.548],[2003.09,0.565],[2003.22,0.588],[2003.35,0.571],[2003.46,0.606],[2003.57,0.635],[2003.67,0.617],[2003.78,0.629],[2003.89,0.623],[2004.02,0.629],[2004.15,0.606],[2004.26,0.600],[2004.37,0.583],[2004.5,0.577],[2004.63,0.565],[2004.74,0.548],[2004.85,0.542],[2004.98,0.531],[2005.1,0.536],[2005.22,0.548],[2005.33,0.542],[2005.45,0.548],[2005.58,0.542],[2005.69,0.536],[2005.81,0.519],[2005.93,0.542],[2006.06,0.554],[2006.17,0.583],[2006.28,0.571],[2006.41,0.577],[2006.54,0.588],[2006.65,0.577],[2006.76,0.588],[2006.89,0.606],[2007.02,0.600],[2007.13,0.588],[2007.24,0.577],[2007.37,0.565],[2007.5,0.525],[2007.61,0.560],[2007.72,0.577],[2007.85,0.571],[2007.97,0.583],[2008.09,0.560],[2008.2,0.577],[2008.33,0.560],[2008.45,0.571],[2008.56,0.554],[2008.68,0.588],[2008.8,0.583],[2008.93,0.594],[2009.04,0.617],[2009.15,0.594],[2009.28,0.606],[2009.41,0.594],[2009.52,0.583],[2009.63,0.617],[2009.76,0.635],[2009.89,0.646],[2010.0,0.629],[2010.08,0.588],[2010.21,0.577],[2010.32,0.571],[2010.43,0.577]];

// ---------- tick values / labels ----------
const xLabelYears = [2000, 2010];
const xMinorYears = [1996, 1998, 2002, 2004, 2006, 2008];
const yLab = [
  [0.60, 0.65, 0.70], [0.45, 0.50, 0.55], [0.5, 0.6],
  [0.4, 0.5], [0.5, 0.6, 0.7], [0.45, 0.55],
  [0.3, 0.4, 0.5], [0.40, 0.45, 0.50, 0.55], [0.60, 0.65, 0.70],
  [0.4, 0.5, 0.6, 0.7], [0.25, 0.50, 0.75], [0.4, 0.6, 0.8]
];
const yMin = [
  [0.575, 0.625, 0.675], [0.475, 0.525], [0.45, 0.55],
  [0.35, 0.45], [0.55, 0.65], [0.41, 0.43, 0.47, 0.49, 0.51, 0.53],
  [0.35, 0.45], [0.425, 0.475, 0.525], [0.575, 0.625, 0.675],
  [0.35, 0.45, 0.55, 0.65], [0.125, 0.375, 0.625], [0.5, 0.7]
];
const yDec = [2, 2, 1, 1, 1, 2, 1, 2, 2, 1, 2, 1];

// ---------- panel layout ----------
const FONT = 'Liberation Serif';
const panels = [
  {r:0,c:0,left:49,width:336,x:[1994.667,2010.667],y:[0.55,0.7256],lines:[{n:'Bank of Ireland-BBVA Correlation',d:bbva}]},
  {r:0,c:1,left:451.7,width:334,x:[1994.66,2010.64],y:[0.425,0.551],lines:[{n:'Bank of Ireland-Santander Correlation',d:santander}]},
  {r:0,c:2,left:854.7,width:335,x:[1994.64,2010.59],y:[0.40,0.60],lines:[{n:'Bank of Ireland-BNP Paribas Correlation',d:bnp}]},
  {r:1,c:0,left:49,width:336,x:[1994.65,2010.70],y:[0.30,0.552],lines:[{n:'Bank of Ireland-Commerzbank Correlation',d:commerz}]},
  {r:1,c:1,left:451.7,width:334,x:[1994.66,2010.64],y:[0.451,0.70],lines:[{n:'Bank of Ireland-DB Correlation',d:db}]},
  {r:1,c:2,left:854.7,width:335,x:[1994.64,2010.59],y:[0.39,0.561],lines:[{n:'Bank of Ireland-Societe Generale Correlation',d:socgen}]},
  {r:2,c:0,left:49,width:336,x:[1994.667,2010.667],y:[0.249,0.5526],lines:[{n:'Bank of Ireland-ING Correlation',d:ing}]},
  {r:2,c:1,left:451.7,width:334,x:[1994.66,2010.64],y:[0.3745,0.55],lines:[{n:'Bank of Ireland-UniCredito Correlation',d:unicredito}]},
  {r:2,c:2,left:854.7,width:335,x:[1994.64,2010.59],y:[0.5485,0.7247],lines:[{n:'Bank of Ireland-National Bank of Greece Correlation',d:nbg}]},
  {r:3,c:0,left:49,width:335.3,x:[1994.68,2011.34],y:[0.303,0.703],lines:[{n:'Deco Correlation',d:deco}]},
  {r:3,c:1,left:451,width:335.7,x:[1994.6,2011.33],y:[0.0,0.873],lines:[{n:'Deco Correlation',d:deco},{n:'Rolling Window Ave Corr',d:rolling,w:3.2,dash:[14,6]}]},
  {r:3,c:2,left:854.7,width:330.6,x:[1994.61,2010.43],y:[0.305,0.80],lines:[{n:'Deco 1',d:deco1,w:0.8},{n:'Deco 2',d:deco2,w:2.6,dash:[10,5]},{n:'Deco3',d:deco3,w:5}]}
];
const rowTop = [13.3, 210, 406.7, 604];
const rowBottom = [155.5, 353, 551, 746.7];
const legTop = [[15.7,15,15],[211.7,213.3,212.3],[410.7,410.7,410.7],[606,606.7,606]];

const grid=[], xAxis=[], yAxis=[], series=[], legend=[];
const lineOf = l => ({color:'#000', width:l.w||1.1, type:l.dash||'solid'});
const txt = {fontFamily:FONT, fontSize:12, color:'#000'};
panels.forEach((p,i)=>{
  grid.push({left:p.left, top:rowTop[p.r], width:p.width, height:rowBottom[p.r]-rowTop[p.r], containLabel:false, outerBoundsMode:'none'});
  const base = {type:'value', gridIndex:i, min:p.x[0], max:p.x[1], splitLine:{show:false}};
  xAxis.push(Object.assign({}, base, {position:'bottom',
    axisLine:{show:true, onZero:false, lineStyle:{color:'#000', width:1.2}},
    axisTick:{show:true, inside:true, length:9, customValues:xLabelYears, lineStyle:{color:'#000', width:1}},
    axisLabel:{show:true, customValues:xLabelYears, margin:10, fontFamily:FONT, fontSize:20, color:'#000', formatter:v=>String(Math.round(v))}}));
  xAxis.push(Object.assign({}, base, {position:'bottom',
    axisLine:{show:false, onZero:false},
    axisTick:{show:true, inside:true, length:4, customValues:xMinorYears, lineStyle:{color:'#000', width:1}},
    axisLabel:{show:false}}));
  const ybase = {type:'value', gridIndex:i, min:p.y[0], max:p.y[1], splitLine:{show:false}};
  const dec = yDec[i];
  yAxis.push(Object.assign({}, ybase, {position:'left',
    axisLine:{show:true, onZero:false, lineStyle:{color:'#000', width:1.2}},
    axisTick:{show:true, inside:true, length:7, customValues:yLab[i], lineStyle:{color:'#000', width:1}},
    axisLabel:{show:true, customValues:yLab[i], margin:6, fontFamily:FONT, fontSize:20, color:'#000', formatter:v=>v.toFixed(dec)}}));
  yAxis.push(Object.assign({}, ybase, {position:'left',
    axisLine:{show:false, onZero:false},
    axisTick:{show:true, inside:true, length:4, customValues:yMin[i], lineStyle:{color:'#000', width:1}},
    axisLabel:{show:false}}));
  p.lines.forEach(l=>{
    series.push({type:'line', name:l.n, xAxisIndex:2*i, yAxisIndex:2*i, data:l.d,
      symbol:'none', showSymbol:false, smooth:false, lineStyle:lineOf(l), itemStyle:{color:'#000'},
      emphasis:{disabled:true}, animation:false});
  });
  const legBase = {left:p.left+6.3, top:legTop[p.r][p.c], orient:'horizontal', itemWidth:33, itemHeight:14,
    itemGap:10, borderColor:'#000', borderWidth:1, borderRadius:0, backgroundColor:'transparent',
    padding:[3,4,3,3], textStyle:txt, selectedMode:false};
  const item = l => ({name:l.n, itemStyle:{opacity:0}, lineStyle:lineOf(l)});
  if (i === 11) {
    legend.push(Object.assign({}, legBase, {padding:[5,3,17,5], itemGap:7, data:[item(p.lines[0]), item(p.lines[1])]}));
    legend.push(Object.assign({}, legBase, {top:legTop[p.r][p.c]+19, borderWidth:0, padding:[0,3,0,5], data:[item(p.lines[2])]}));
  } else {
    legend.push(Object.assign({}, legBase, {data:p.lines.map(item)}));
  }
});

const chart = echarts.init(document.getElementById('c'), null, {renderer:'canvas'});
chart.setOption({backgroundColor:'#fff', animation:false, grid, xAxis, yAxis, series, legend});
</script>
</body></html>
